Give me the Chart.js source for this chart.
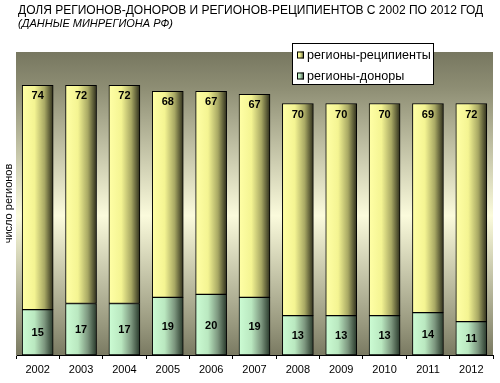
<!DOCTYPE html>
<html>
<head>
<meta charset="utf-8">
<script src="https://cdn.jsdelivr.net/npm/chart.js@4"></script>
<style>
html,body{margin:0;padding:0;background:#fff;}
canvas{display:block;}
</style>
</head>
<body>
<canvas id="c" width="500" height="383"></canvas>
<script>
const categories = ['2002','2003','2004','2005','2006','2007','2008','2009','2010','2011','2012'];
const donors = [15,17,17,19,20,19,13,13,13,14,11];
const recipients = [74,72,72,68,67,67,70,70,70,69,72];
const seriesLabels = ['регионы-доноры','регионы-реципиенты'];
const titleText = 'ДОЛЯ РЕГИОНОВ-ДОНОРОВ И РЕГИОНОВ-РЕЦИПИЕНТОВ С 2002 ПО 2012 ГОД';
const subtitleText = '(ДАННЫЕ МИНРЕГИОНА РФ)';
const yTitle = 'число регионов';
const yMax = 100;

const FONT = '"Liberation Sans", Arial, sans-serif';
const BAR_W = 31;

const yellowStops = [[0,'#ffffa6'],[0.4,'#f4f492'],[0.72,'#a8a864'],[1,'#2e2e1c']];
const greenStops = [[0,'#ccfcd4'],[0.4,'#bae8c0'],[0.72,'#7c967e'],[1,'#28382a']];

function grad(ctx, x0, x1, stops){
  const g = ctx.createLinearGradient(x0,0,x1,0);
  stops.forEach(s=>g.addColorStop(s[0],s[1]));
  return g;
}
function barFill(stops, fallback){
  return (c)=>{
    const chart = c.chart;
    const xs = chart.scales && chart.scales.x;
    if(!xs || !chart.chartArea || c.dataIndex === undefined) return fallback;
    const x = xs.getPixelForValue(c.dataIndex);
    return grad(chart.ctx, x-BAR_W/2, x+BAR_W/2, stops);
  };
}

const bgPlugin = {
  id:'bg',
  beforeDatasetsDraw(chart){
    const a = chart.chartArea, ctx = chart.ctx;
    const g = ctx.createLinearGradient(0,a.top,0,a.bottom);
    g.addColorStop(0,'#777760');
    g.addColorStop(0.12,'#8e8e74');
    g.addColorStop(0.54,'#fbfbdc');
    g.addColorStop(0.9,'#98987e');
    g.addColorStop(1,'#7a7a62');
    ctx.save();
    ctx.fillStyle = g;
    ctx.fillRect(a.left,a.top,a.right-a.left,a.bottom-a.top);
    ctx.restore();
  }
};

const textPlugin = {
  id:'texts',
  afterDraw(chart){
    const ctx = chart.ctx;
    ctx.save();
    ctx.fillStyle = '#000';
    ctx.textBaseline = 'middle';
    ctx.textAlign = 'left';
    ctx.font = '12px ' + FONT;
    ctx.fillText(titleText, 18, 10.5);
    ctx.font = 'italic 11px ' + FONT;
    ctx.fillText(subtitleText, 18, 24);

    ctx.font = 'bold 11px ' + FONT;
    ctx.textAlign = 'center';
    const m0 = chart.getDatasetMeta(0), m1 = chart.getDatasetMeta(1);
    m0.data.forEach((el,i)=>{
      ctx.fillText(String(donors[i]), el.x, (el.y+el.base)/2 + 1);
    });
    m1.data.forEach((el,i)=>{
      ctx.fillText(String(recipients[i]), el.x, el.y + 11);
    });

    const lx = 292.5, ly = 43.5, lw = 141, lh = 41;
    ctx.fillStyle = '#fff';
    ctx.fillRect(lx,ly,lw,lh);
    ctx.strokeStyle = '#000';
    ctx.lineWidth = 1;
    ctx.strokeRect(lx,ly,lw,lh);
    const items = [[seriesLabels[1], yellowStops, 55],[seriesLabels[0], greenStops, 76]];
    ctx.font = '12.6px ' + FONT;
    ctx.textAlign = 'left';
    items.forEach(([t,stops,cy])=>{
      ctx.fillStyle = grad(ctx, 297, 304, stops);
      ctx.fillRect(297, cy-3.5, 7, 7);
      ctx.strokeRect(297.5, cy-3.5+0.5, 6, 6);
      ctx.fillStyle = '#000';
      ctx.fillText(t, 307, cy+0.5);
    });
    ctx.restore();
  }
};

new Chart(document.getElementById('c'), {
  type:'bar',
  data:{
    labels: categories,
    datasets:[
      {label: seriesLabels[0], data: donors, backgroundColor: barFill(greenStops,'#bcecc4'),
       borderColor:'#000', borderWidth:1, borderSkipped:false, barThickness: BAR_W},
      {label: seriesLabels[1], data: recipients, backgroundColor: barFill(yellowStops,'#f6f694'),
       borderColor:'#000', borderWidth:1, borderSkipped:false, barThickness: BAR_W}
    ]
  },
  options:{
    responsive:false,
    animation:false,
    devicePixelRatio:1,
    layout:{padding:{top:52,right:7,left:0,bottom:0}},
    plugins:{legend:{display:false}, title:{display:false}, tooltip:{enabled:false}},
    scales:{
      x:{
        stacked:true,
        offset:true,
        grid:{display:true, drawOnChartArea:false, drawTicks:true, tickLength:4, color:'#000', offset:true},
        border:{display:true, color:'#000'},
        ticks:{color:'#000', font:{family:FONT, size:11}, padding:4, maxRotation:0},
        afterFit(s){ s.height = 28; }
      },
      y:{
        stacked:true,
        min:0, max:yMax,
        grid:{display:false, drawTicks:false},
        border:{display:true, color:'#8a8a80'},
        ticks:{display:false},
        title:{display:true, text:yTitle, color:'#000', font:{family:FONT, size:11}, padding:{top:2,bottom:0}},
        afterFit(s){ s.width = 16; }
      }
    }
  },
  plugins:[bgPlugin, textPlugin]
});
</script>
</body>
</html>
